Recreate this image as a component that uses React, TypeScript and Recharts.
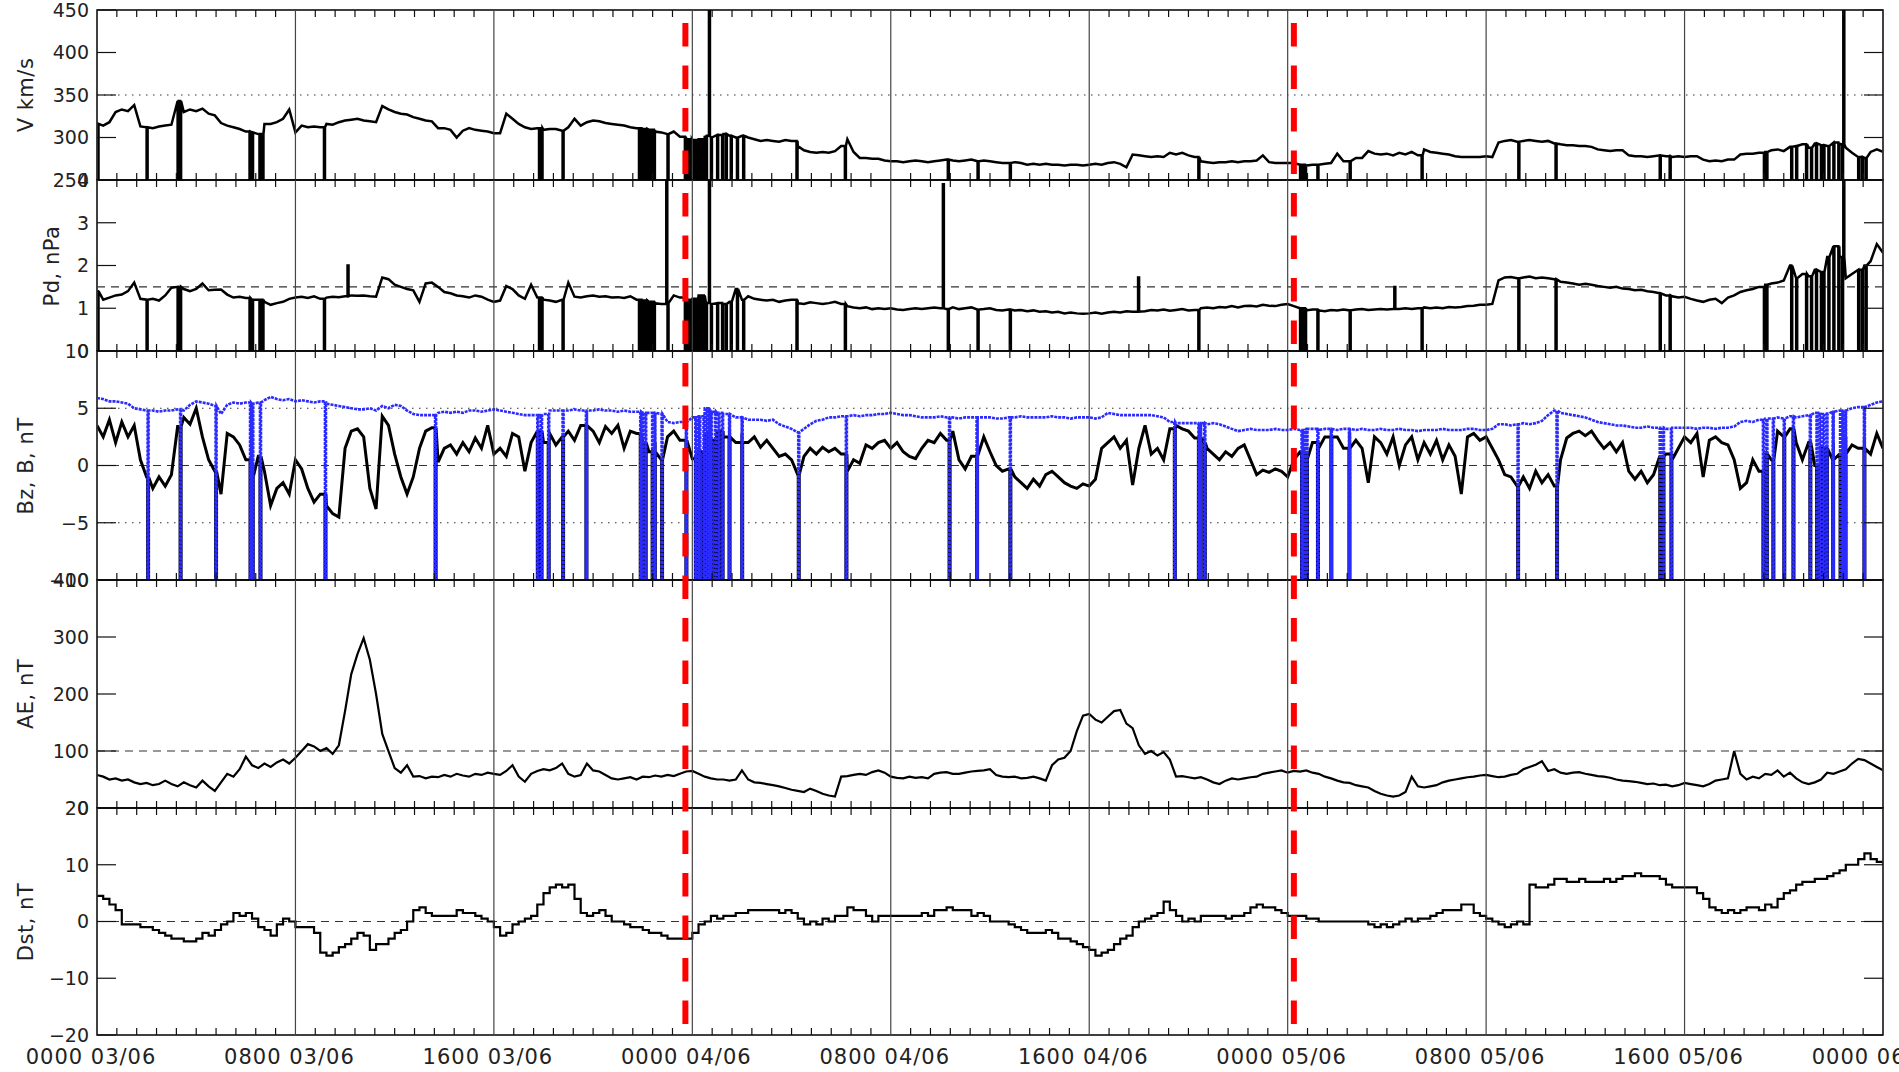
import React from "react";
import { LineChart, Line, XAxis, YAxis, ReferenceLine, ReferenceArea } from "recharts";

// solar wind / geomagnetic overview, 03/06 00:00 – 06/06 00:00, values every 15 min
const STEP_H = 0.25;

const X_MAJOR = [0, 8, 16, 24, 32, 40, 48, 56, 64, 72];
const X_LABELS = [
  "0000 03/06", "0800 03/06", "1600 03/06",
  "0000 04/06", "0800 04/06", "1600 04/06",
  "0000 05/06", "0800 05/06", "1600 05/06",
  "0000 06/06",
];
const RED_LINES = [23.72, 48.25];

// V, km/s
const V = [
  316, 314, 318, 330, 333, 331, 338, 313, 312, 311, 313, 314, 315, 343, 330, 333,
  331, 334, 328, 326, 317, 314, 312, 310, 307, 306, 304, 316, 316, 318, 322, 333,
  306, 314, 312, 313, 312, 316, 315, 318, 320, 321, 322, 320, 319, 318, 337, 333,
  330, 328, 327, 324, 322, 320, 319, 311, 311, 309, 300, 308, 311, 309, 308, 307,
  305, 305, 328, 322, 316, 312, 310, 311, 309, 310, 310, 308, 312, 322, 314, 318,
  320, 319, 317, 316, 315, 314, 312, 311, 310, 309, 307, 306, 304, 307, 301, 298,
  297, 298, 302, 300, 303, 304, 302, 300, 302, 300, 298, 296, 297, 296, 295, 297,
  296, 290, 285, 283, 282, 283, 282, 284, 290, 298, 283, 276, 276, 275, 275, 273,
  272, 272, 271, 272, 273, 272, 271, 272, 273, 274, 273, 272, 273, 274, 272, 273,
  272, 271, 270, 270, 271, 270, 268, 269, 268, 269, 268, 268, 267, 268, 268, 267,
  268, 269, 268, 270, 271, 269, 265, 280, 279, 278, 277, 278, 277, 282, 280, 282,
  279, 277, 272, 271, 270, 271, 271, 272, 271, 272, 272, 273, 279, 271, 270, 270,
  270, 270, 268, 267, 268, 268, 269, 270, 281, 272, 272, 276, 276, 284, 281, 280,
  281, 279, 282, 280, 283, 279, 286, 283, 282, 281, 280, 278, 277, 277, 277, 277,
  278, 277, 294, 296, 297, 295, 296, 297, 296, 295, 296, 293, 292, 291, 291, 290,
  290, 289, 286, 285, 284, 285, 285, 279, 278, 278, 277, 278, 279, 278, 277, 278,
  277, 278, 278, 274, 272, 273, 272, 274, 274, 280, 281, 281, 282, 283, 285, 286,
  284, 289, 290, 292, 288, 293, 291, 290, 294, 292, 288, 282, 277, 276, 283, 286,
  283,
];

// Pd, nPa
const PD = [
  1.4, 1.2, 1.25, 1.3, 1.32, 1.4, 1.6, 1.22, 1.2, 1.22, 1.18, 1.3, 1.48, 1.5, 1.45, 1.4,
  1.45, 1.58, 1.42, 1.43, 1.44, 1.32, 1.25, 1.27, 1.24, 1.2, 1.2, 1.15, 1.08, 1.12, 1.15, 1.22,
  1.25, 1.27, 1.24, 1.28, 1.22, 1.25, 1.27, 1.26, 1.28, 1.3, 1.29, 1.3, 1.28, 1.27, 1.72, 1.68,
  1.55, 1.5, 1.45, 1.42, 1.15, 1.58, 1.6, 1.5, 1.38, 1.35, 1.3, 1.28, 1.25, 1.3, 1.27, 1.2,
  1.15, 1.18, 1.52, 1.45, 1.3, 1.22, 1.55, 1.25, 1.2, 1.18, 1.15, 1.2, 1.6, 1.27, 1.25, 1.28,
  1.3, 1.27, 1.28, 1.25, 1.26, 1.24, 1.28, 1.2, 1.18, 1.15, 1.12, 1.1, 1.12, 1.3, 1.25, 1.2,
  1.22, 1.3, 1.12, 1.1, 1.12, 1.1, 1.15, 1.45, 1.2, 1.28, 1.22, 1.2, 1.18, 1.2, 1.15, 1.18,
  1.2, 1.12, 1.1, 1.14, 1.12, 1.1, 1.12, 1.15, 1.1, 1.05, 1.02, 1.0, 1.02, 0.98, 1.0, 0.98,
  1.0, 0.97, 0.96, 0.98, 1.0, 0.98, 1.0, 1.02, 1.0, 0.98, 1.02, 0.98, 1.0, 1.02, 0.97, 0.98,
  1.0, 0.96, 0.95, 0.97, 0.95, 0.96, 0.93, 0.95, 0.92, 0.93, 0.9, 0.92, 0.88, 0.9, 0.88, 0.87,
  0.88, 0.9, 0.87, 0.9, 0.92, 0.9, 0.93, 0.92, 0.95, 0.93, 0.96, 0.95, 0.97, 0.94, 0.96, 0.98,
  0.95, 0.96, 1.0, 1.02, 1.0, 1.03, 1.02, 1.05, 1.02, 1.05, 1.06, 1.04, 1.08, 1.06, 1.05, 1.08,
  1.1, 1.05, 1.0, 0.95, 0.97, 0.95, 0.93, 0.96, 0.95, 0.97, 0.95, 0.97, 0.98, 0.96, 0.97, 0.98,
  0.97, 0.98, 0.98, 1.0, 0.98, 1.0, 1.02, 1.0, 1.02, 1.0, 1.03, 1.02, 1.03, 1.05, 1.06, 1.08,
  1.08, 1.1, 1.65, 1.72, 1.73, 1.7, 1.72, 1.74, 1.7, 1.72, 1.7, 1.68, 1.62, 1.6, 1.58, 1.55,
  1.57, 1.55, 1.52, 1.5, 1.48, 1.5, 1.46, 1.45, 1.42, 1.43, 1.4, 1.38, 1.35, 1.3, 1.28, 1.25,
  1.27, 1.22, 1.18, 1.15, 1.2, 1.22, 1.12, 1.25, 1.3, 1.38, 1.42, 1.45, 1.5, 1.55, 1.58, 1.6,
  1.65, 2.0, 1.7, 1.8, 1.75, 1.9, 1.85, 2.2, 2.45, 2.2, 1.7, 1.8, 1.9, 2.0, 2.1, 2.5,
  2.3,
];

// Bz, nT
const BZ = [
  3.5, 2.5, 4.0, 2.0, 3.8, 2.5, 3.5, 0.5, -1.0, -2.0, -1.0, -1.8, -0.8, 3.4, 4.2, 3.6,
  5.0, 2.5, 0.5, -0.5, -2.5, 2.8, 2.5, 1.8, 0.5, -1.0, 0.8, -0.5, -3.5, -2.0, -1.5, -2.5,
  0.5, -0.3, -2.0, -3.2, -2.5, -3.5, -4.2, -4.5, 1.5, 3.0, 3.2, 2.5, -2.0, -3.8, 4.3, 3.5,
  1.0, -1.0, -2.5, -1.0, 1.5, 3.0, 3.3, 0.3, 1.5, 1.8, 1.0, 2.0, 1.2, 2.4, 1.5, 3.5,
  1.0, 1.5, 0.8, 2.8, 2.5, -0.5, 2.0, 3.0, 2.0, 2.8, 1.8, 2.5, 3.0, 2.2, 3.5, 2.5,
  3.0, 2.0, 3.4, 2.8, 3.5, 1.5, 3.0, 2.8, 2.0, 1.2, 2.0, 0.5, 2.5, 3.0, 2.2, 1.5,
  0.6, 1.2, 2.8, 2.2, 3.0, 2.5, 3.2, 2.0, 2.8, 2.0, 2.5, 1.6, 2.2, 1.5, 0.8, 1.0,
  0.5, -0.8, 0.8, 1.5, 1.0, 1.6, 1.2, 1.5, 1.0, -0.5, 0.5, 0.2, 1.8, 1.5, 2.0, 2.2,
  1.5, 2.0, 1.2, 0.8, 0.6, 1.5, 2.2, 2.0, 2.8, 2.2, 3.0, 0.5, -0.3, 0.8, 1.0, 2.5,
  1.2, 0.0, -0.5, -0.3, -1.0, -1.5, -2.0, -1.2, -1.8, -0.8, -0.5, -1.0, -1.5, -1.8, -2.0, -1.6,
  -1.8, -1.2, 1.5, 2.0, 2.5, 1.5, 2.2, -1.7, 1.5, 3.5, 1.0, 1.5, 0.5, 3.2, 3.5, 3.2,
  3.0, 2.4, 2.0, 1.5, 1.0, 0.5, 1.2, 0.8, 1.5, 1.8, 0.5, -0.8, -0.4, -0.6, -0.3, -0.5,
  -1.0, 0.5, 1.2, 0.6, 2.0, 1.5, 2.5, -3.0, 2.5, 1.5, 2.8, 2.2, 1.5, -1.5, 2.5, 2.0,
  1.0, 2.5, 0.0, 1.8, 2.5, 0.5, 2.0, 1.0, 2.2, 0.5, 1.8, 0.8, -2.5, 2.5, 2.8, 2.2,
  2.5, 1.5, 0.5, -0.8, -1.0, -1.8, -1.0, -2.0, -0.5, -1.5, -0.8, -1.8, 0.5, 2.4, 2.8, 3.0,
  2.6, 3.0, 2.2, 1.5, 2.0, 1.2, 2.0, -0.5, -1.2, -0.5, -1.5, -0.8, 0.8, 1.0, 0.5, 1.5,
  2.5, 2.0, 2.8, -1.0, 2.2, 2.5, 2.0, 1.8, 0.5, -2.0, -1.5, 0.5, -0.5, 1.0, 0.5, 3.0,
  2.5, 3.2, 2.0, 0.5, 2.0, 0.0, 1.5, 0.5, 2.0, 1.0, 2.5, 1.8, 1.5, 2.5, 1.0, 2.8,
  1.5,
];

// |B|, nT
const BT = [
  5.9, 5.8, 5.6, 5.6, 5.5, 5.4, 5.0, 4.9, 4.8, 4.8, 4.7, 4.8, 4.8, 4.9, 4.8, 5.3,
  5.6, 5.5, 5.4, 5.2, 4.5, 5.3, 5.5, 5.4, 5.5, 5.4, 5.5, 5.7, 6.0, 5.8, 5.7, 5.8,
  5.6, 5.7, 5.6, 5.5, 5.6, 5.4, 5.3, 5.2, 5.1, 5.0, 4.9, 4.9, 5.0, 4.8, 5.2, 5.0,
  5.3, 5.2, 4.8, 4.5, 4.4, 4.4, 4.4, 4.6, 4.7, 4.6, 4.7, 4.6, 4.8, 4.8, 4.7, 4.8,
  4.9, 4.8, 4.7, 4.6, 4.5, 4.4, 4.4, 4.4, 4.5, 4.8, 4.8, 4.8, 4.8, 4.9, 4.8, 4.8,
  4.8, 4.9, 4.8, 4.8, 4.7, 4.8, 4.7, 4.7, 4.6, 4.6, 4.6, 4.5, 3.8, 3.7, 3.8, 4.1,
  4.2, 4.3, 5.0, 4.7, 4.6, 4.5, 4.4, 4.2, 4.1, 4.0, 4.0, 4.0, 3.9, 4.0, 3.6, 3.4,
  3.2, 2.9, 3.2, 3.6, 3.9, 4.0, 4.2, 4.2, 4.3, 4.3, 4.4, 4.3, 4.4, 4.4, 4.5, 4.5,
  4.6, 4.5, 4.4, 4.4, 4.3, 4.2, 4.2, 4.2, 4.3, 4.2, 4.2, 4.1, 4.2, 4.2, 4.1, 4.2,
  4.2, 4.1, 4.1, 4.2, 4.2, 4.3, 4.2, 4.2, 4.2, 4.2, 4.3, 4.2, 4.2, 4.1, 4.2, 4.2,
  4.2, 4.1, 4.2, 4.6, 4.5, 4.4, 4.4, 4.4, 4.4, 4.4, 4.4, 4.3, 4.2, 3.8, 3.7, 3.7,
  3.7, 3.7, 3.7, 3.6, 3.7, 3.6, 3.4, 3.2, 3.0, 3.1, 3.2, 3.1, 3.1, 3.1, 3.2, 3.1,
  3.1, 3.2, 3.1, 3.2, 3.2, 3.1, 3.2, 3.2, 3.1, 3.2, 3.2, 3.1, 3.2, 3.1, 3.1, 3.2,
  3.1, 3.1, 3.2, 3.1, 3.1, 3.0, 3.1, 3.1, 3.1, 3.2, 3.1, 3.1, 3.1, 3.2, 3.2, 3.1,
  3.1, 3.2, 3.6, 3.6, 3.5, 3.6, 3.7, 3.6, 3.7, 3.9, 4.4, 4.8, 4.6, 4.5, 4.4, 4.3,
  4.2, 4.0, 3.8, 3.7, 3.6, 3.5, 3.5, 3.4, 3.3, 3.3, 3.4, 3.3, 3.3, 3.2, 3.3, 3.3,
  3.3, 3.3, 3.2, 3.3, 3.3, 3.2, 3.3, 3.3, 3.4, 3.8, 3.9, 3.8, 4.0, 4.1, 4.1, 4.2,
  4.1, 4.3, 4.2, 4.3, 4.4, 4.6, 4.5, 4.7, 4.8, 4.8, 4.9, 5.0, 5.1, 5.2, 5.3, 5.5,
  5.6,
];

// AE, nT
const AE = [
  58, 55, 50, 52, 48, 50, 45, 42, 44, 40, 42, 48, 42, 38, 45, 40,
  36, 48, 38, 30, 45, 60, 55, 68, 90, 75, 70, 78, 72, 80, 85, 78,
  88, 100, 112, 108, 100, 105, 95, 110, 170, 235, 270, 298, 260, 200, 130, 100,
  70, 62, 75, 55, 56, 52, 55, 54, 58, 55, 60, 57, 55, 60, 58, 62,
  60, 58, 65, 75, 55, 46, 60, 65, 68, 66, 70, 78, 60, 55, 58, 78,
  66, 64, 58, 52, 50, 52, 54, 50, 55, 54, 57, 55, 58, 56, 60, 64,
  65, 60, 55, 52, 50, 50, 48, 50, 66, 50, 45, 44, 42, 40, 38, 35,
  32, 30, 28, 34, 30, 25, 22, 20, 55, 56, 58, 60, 58, 63, 66, 62,
  55, 53, 52, 55, 53, 54, 52, 60, 62, 63, 60, 60, 62, 64, 65, 66,
  68, 58, 55, 54, 55, 52, 53, 55, 52, 48, 75, 85, 88, 100, 135, 162,
  165, 155, 150, 160, 170, 172, 148, 140, 110, 95, 100, 92, 98, 85, 55, 56,
  54, 52, 54, 50, 45, 42, 48, 52, 50, 52, 54, 55, 60, 62, 64, 66,
  62, 65, 64, 66, 62, 60, 55, 52, 48, 45, 44, 40, 38, 36, 30, 25,
  22, 20, 22, 28, 55, 38, 36, 38, 40, 45, 48, 50, 52, 54, 55, 57,
  58, 56, 54, 55, 58, 60, 68, 72, 76, 82, 65, 68, 62, 60, 62, 63,
  60, 58, 56, 55, 53, 50, 48, 47, 46, 44, 42, 43, 40, 41, 38, 40,
  44, 42, 40, 38, 42, 48, 50, 52, 100, 60, 50, 55, 52, 60, 58, 66,
  55, 62, 52, 45, 42, 45, 50, 62, 60, 64, 68, 78, 86, 84, 78, 72,
  66,
];

// Dst, nT
const DST = [
  4.5, 4, 3, 2, -0.5, -0.5, -0.5, -1, -1, -1.5, -2, -2.5, -3, -3, -3.5, -3.5,
  -3, -2, -2.5, -1.5, -0.5, 0, 1.5, 1, 1.5, 0.5, -1, -1.5, -2.5, -0.5, 0.5, 0,
  -1, -1, -1, -2, -5.5, -6, -5.5, -4.5, -4, -3, -2, -2.5, -5, -4, -4, -3,
  -2, -1.5, 0, 2, 2.5, 1.5, 1, 1, 1, 1, 2, 1.5, 1.5, 1, 0.5, 0,
  -1, -2.5, -2, -0.5, 0, 0.5, 1, 3, 5, 6, 6.5, 6, 6.5, 4, 1.5, 1,
  1.5, 2, 1, 0, 0, -0.5, -1, -1, -1.5, -2, -2, -2.5, -3, -3, -3, -3,
  -2, -0.5, 0, 1, 0.5, 1, 1, 1.5, 1.5, 2, 2, 2, 2, 2, 1.5, 2,
  1.5, 0.5, -0.5, 0, -0.5, 0.5, 0, 1, 1, 2.5, 2, 2, 1, 0, 1, 1,
  1, 1, 1, 1, 1, 1.5, 1, 2, 2, 2.5, 2, 2, 2, 1, 1.5, 1,
  0, 0, 0, -0.5, -1, -1.5, -2, -2, -2, -1.5, -2, -3, -3, -3.5, -4, -4.5,
  -5, -6, -5.5, -5, -4, -3, -2.5, -1, 0, 0.5, 1, 1.5, 3.5, 2, 1, 0,
  0.5, 0, 1, 1, 1, 1, 0.5, 1, 1, 1.5, 2.5, 3, 2.5, 2.5, 2, 1.5,
  1, 1, 1, 0.5, 0.5, 0, 0, 0, 0, 0, 0, 0, 0, -0.5, -1, -0.5,
  -1, -0.5, 0, 0.5, 0, 0.5, 0.5, 1, 1.5, 2, 2, 2, 3, 3, 1.5, 1,
  0.5, 0, -0.5, -1, -0.5, 0, -0.5, 6.5, 6, 6, 6.5, 7.5, 7.5, 7, 7, 7.5,
  7, 7, 7, 7.5, 7, 7.5, 8, 8, 8.5, 8, 8, 8, 7.5, 6.5, 6, 6,
  6, 6, 5, 4, 2.5, 2, 1.5, 2, 1.5, 2, 2.5, 2.5, 2, 3, 2.5, 4,
  5, 5.5, 6.5, 7, 7, 7.5, 7.5, 8, 8.5, 9, 10, 10, 11, 12, 11, 10.5,
  10,
];

// data gaps (fill values drawn down to the bottom of the panel), hours
const V_GAPS = [
  0.02, 2.0, 3.25, 3.35, 6.15, 6.25, 6.55, 6.67, 9.15, 17.82, 17.92, 18.77,
  21.85, 21.95, 22.05, 22.15, 22.25, 22.35, 22.45, 23.0, 23.7, 23.78, 23.86, 23.94,
  24.02, 24.1, 24.2, 24.3, 24.38, 24.46, 24.55, 24.75, 25.0, 25.2, 25.35, 25.55,
  25.8, 26.05, 28.2, 30.15, 34.3, 35.5, 36.8, 44.4, 48.5, 48.6, 48.7, 49.2,
  50.5, 53.4, 57.3, 58.8, 63.0, 63.4, 67.2, 67.3, 68.3, 68.5, 68.9, 69.1,
  69.3, 69.5, 69.6, 69.8, 70.0, 70.2, 70.35, 71.0, 71.15, 71.3,
];
const B_GAPS = [
  2.04, 3.35, 4.78, 6.17, 6.26, 6.57, 9.19, 13.63, 17.75, 17.9, 18.19, 18.77,
  19.71, 21.9, 22.0, 22.1, 22.38, 22.47, 22.76, 23.74, 24.12, 24.2, 24.28, 24.45,
  24.55, 24.65, 24.75, 24.92, 25.05, 25.2, 25.48, 25.99, 28.27, 30.19, 34.35, 35.46,
  36.8, 43.43, 44.4, 44.47, 44.64, 48.56, 48.66, 48.76, 49.2, 49.74, 50.47, 57.27,
  58.84, 63.0, 63.13, 63.45, 67.16, 67.3, 67.56, 68.0, 68.37, 69.05, 69.32, 69.45,
  69.58, 69.72, 69.97, 70.27, 70.37, 70.47, 71.23,
];
// upward spikes
const V_SPIKES = [24.67, 70.4];
const V_SPIKE_TOPS = [450, 450];
const PD_SPIKES = [10.1, 22.95, 24.67, 34.1, 41.97, 52.3, 70.4];
const PD_SPIKE_TOPS = [2.0, 4.0, 4.0, 3.9, 1.75, 1.5, 4.0];

const W = 1899;
const H = 1072;
const PLOT_L = 97;
const PLOT_R = 1883;
const PLOT_W = PLOT_R - PLOT_L;
const FONT = "'DejaVu Sans', sans-serif";
const DROP_W = 0.04;

const X_MINOR = Array.from({ length: 91 }, (_, i) => (i * 48) / 60);

type Row = { t: number; y: number };

function buildRows(values: number[], drops: number[], dropLevel: number, spikes: number[] = [], tops: number[] = []): Row[] {
  const rows: Row[] = values.map((y, i) => ({ t: i * STEP_H, y }));
  const extra: Row[] = [];
  const add = (g: number, level: number) => {
    const v0 = values[Math.min(values.length - 1, Math.floor(g / STEP_H))];
    extra.push({ t: g, y: v0 }, { t: g, y: level }, { t: g + DROP_W, y: level }, { t: g + DROP_W, y: v0 });
  };
  drops.forEach((g) => add(g, dropLevel));
  spikes.forEach((g, i) => add(g, tops[i]));
  return [...rows, ...extra].sort((a, b) => a.t - b.t);
}

const vRows = buildRows(V, V_GAPS, 250, V_SPIKES, V_SPIKE_TOPS);
const pdRows = buildRows(PD, V_GAPS, 0, PD_SPIKES, PD_SPIKE_TOPS);
const bzRows = buildRows(BZ, B_GAPS, -10);
const btRows = buildRows(BT, B_GAPS, -10);
const aeRows = AE.map((y, i) => ({ t: i * STEP_H, y }));
const dstRows = DST.map((y, i) => ({ t: i * STEP_H, y }));
const redRows = RED_LINES.map((x) => [{ t: x, y: 0 }, { t: x, y: 1 }]);

const fmt = (v: number) => (v < 0 ? "\u2212" + Math.abs(v) : String(v));

type RefY = { y: number; dash: string };
type Series = { rows: Row[]; color: string; width: number; dash?: string; step?: boolean };

type PanelProps = {
  top: number;
  bottom: number;
  domain: [number, number];
  ticks: number[];
  refs: RefY[];
  series: Series[];
  title: string;
  titleX: number;
  last?: boolean;
};

function Panel({ top, bottom, domain, ticks, refs, series, title, titleX, last }: PanelProps) {
  const plotH = bottom - top;
  const xAxisH = last ? H - bottom : 20;
  const chartH = plotH + 20 + xAxisH;

  const xTick = (props: any) => {
    const { x, y, payload } = props;
    const v = payload.value as number;
    const k = Math.round(v / 8);
    const major = Math.abs(v - k * 8) < 1e-6;
    return (
      <g>
        {major ? (
          <line x1={x} x2={x} y1={y} y2={y - plotH} stroke="#444" strokeWidth={1.2} />
        ) : (
          <>
            <line x1={x} x2={x} y1={y} y2={y - 7} stroke="#111" strokeWidth={1.2} />
            <line x1={x} x2={x} y1={y - plotH} y2={y - plotH + 7} stroke="#111" strokeWidth={1.2} />
          </>
        )}
        {last && major && (
          <text x={x - 6} y={y + 29} textAnchor="middle" fontFamily={FONT} fontSize={21} fill="#222" letterSpacing={1}>
            {X_LABELS[k]}
          </text>
        )}
      </g>
    );
  };

  const yTick = (props: any) => {
    const { x, y, payload } = props;
    const left = x + 8;
    return (
      <g>
        <line x1={left} x2={left + 19} y1={y} y2={y} stroke="#111" strokeWidth={1.2} />
        <line x1={left + PLOT_W - 19} x2={left + PLOT_W} y1={y} y2={y} stroke="#111" strokeWidth={1.2} />
        <text x={x} y={y} dy="0.36em" textAnchor="end" fontFamily={FONT} fontSize={19} fill="#222">
          {fmt(payload.value)}
        </text>
      </g>
    );
  };

  return (
    <>
      <div style={{ position: "absolute", left: 0, top: top - 20 }}>
        <LineChart width={W} height={chartH} margin={{ top: 20, right: W - PLOT_R, bottom: 0, left: PLOT_L - 90 }}>
          <XAxis
            type="number"
            dataKey="t"
            domain={[0, 72]}
            allowDataOverflow
            ticks={X_MINOR}
            interval={0}
            tickSize={0}
            tickMargin={0}
            axisLine={false}
            tickLine={false}
            height={xAxisH}
            tick={xTick}
          />
          <YAxis
            type="number"
            domain={domain}
            allowDataOverflow
            ticks={ticks}
            interval={0}
            width={90}
            tickSize={0}
            tickMargin={8}
            axisLine={false}
            tickLine={false}
            tick={yTick}
          />
          {refs.map((r) => (
            <ReferenceLine key={r.y} y={r.y} stroke="#333" strokeWidth={1.2} strokeDasharray={r.dash} />
          ))}
          {series.map((s, i) => (
            <Line
              key={i}
              data={s.rows}
              dataKey="y"
              type={s.step ? "stepAfter" : "linear"}
              stroke={s.color}
              strokeWidth={s.width}
              strokeDasharray={s.dash}
              dot={false}
              activeDot={false}
              isAnimationActive={false}
            />
          ))}
          <ReferenceArea x1={0} x2={72} y1={domain[0]} y2={domain[1]} fill="none" stroke="#000" strokeWidth={1.5} />
        </LineChart>
      </div>
      <div
        style={{
          position: "absolute",
          left: titleX,
          top: (top + bottom) / 2,
          transform: "translate(-50%, -50%) rotate(-90deg)",
          whiteSpace: "nowrap",
          fontFamily: FONT,
          fontSize: 21,
          color: "#222",
          letterSpacing: 0.5,
        }}
      >
        {title}
      </div>
    </>
  );
}

export default function App() {
  return (
    <div style={{ position: "relative", width: W, height: H, background: "#fff", overflow: "hidden" }}>
      <style>{"body{margin:0}"}</style>
      <Panel
        top={10}
        bottom={180}
        domain={[250, 450]}
        ticks={[250, 300, 350, 400, 450]}
        refs={[{ y: 350, dash: "1.5 5.5" }]}
        series={[{ rows: vRows, color: "#000", width: 2.5 }]}
        title="V km/s"
        titleX={26}
      />
      <Panel
        top={180}
        bottom={351}
        domain={[0, 4]}
        ticks={[0, 1, 2, 3, 4]}
        refs={[{ y: 1.5, dash: "8 6" }]}
        series={[{ rows: pdRows, color: "#000", width: 2.5 }]}
        title="Pd, nPa"
        titleX={52}
      />
      <Panel
        top={351}
        bottom={580}
        domain={[-10, 10]}
        ticks={[-10, -5, 0, 5, 10]}
        refs={[
          { y: 0, dash: "8 6" },
          { y: 5, dash: "1.5 5.5" },
          { y: -5, dash: "1.5 5.5" },
        ]}
        series={[
          { rows: bzRows, color: "#000", width: 3 },
          { rows: btRows, color: "#2b2bff", width: 2.6, dash: "3 1" },
        ]}
        title="Bz, B, nT"
        titleX={26}
      />
      <Panel
        top={580}
        bottom={808}
        domain={[0, 400]}
        ticks={[0, 100, 200, 300, 400]}
        refs={[{ y: 100, dash: "8 6" }]}
        series={[{ rows: aeRows, color: "#000", width: 2.2 }]}
        title="AE, nT"
        titleX={26}
      />
      <Panel
        top={808}
        bottom={1035}
        domain={[-20, 20]}
        ticks={[-20, -10, 0, 10, 20]}
        refs={[{ y: 0, dash: "8 6" }]}
        series={[{ rows: dstRows, color: "#000", width: 2.2, step: true }]}
        title="Dst, nT"
        titleX={26}
        last
      />
      <div style={{ position: "absolute", left: 0, top: 0, pointerEvents: "none" }}>
        <LineChart width={W} height={H} margin={{ top: 23, right: W - PLOT_R, bottom: 48, left: PLOT_L }}>
          <XAxis type="number" dataKey="t" domain={[0, 72]} height={0} tick={false} axisLine={false} tickLine={false} />
          <YAxis type="number" domain={[0, 1]} width={0} tick={false} axisLine={false} tickLine={false} />
          {redRows.map((rows, i) => (
            <Line
              key={i}
              data={rows}
              dataKey="y"
              type="linear"
              stroke="#ff0000"
              strokeWidth={6}
              strokeDasharray="23.5 19"
              dot={false}
              activeDot={false}
              isAnimationActive={false}
            />
          ))}
        </LineChart>
      </div>
    </div>
  );
}
